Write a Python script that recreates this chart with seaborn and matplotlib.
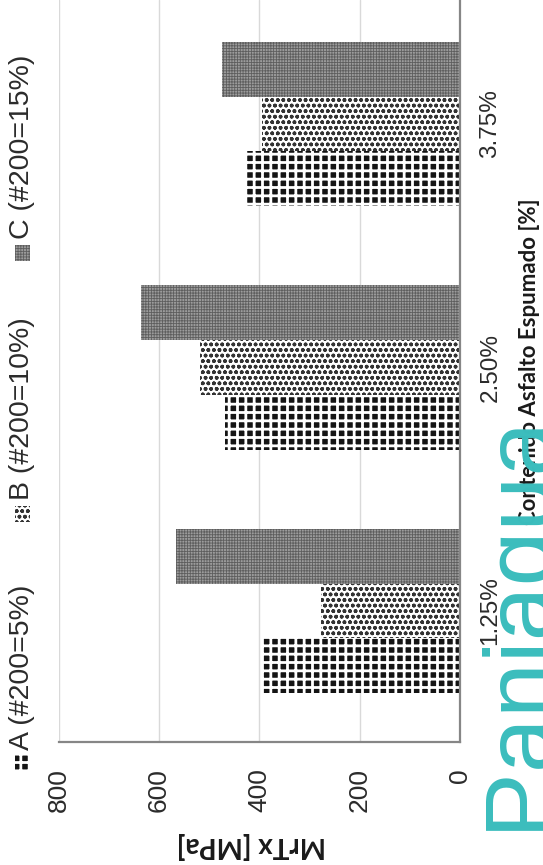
import matplotlib
matplotlib.use("Agg")
import matplotlib.pyplot as plt
import pandas as pd
import seaborn as sns
from matplotlib.patches import Rectangle

# Foamed-asphalt content on the category axis, one series per fines content
contenido = ["1.25%", "2.50%", "3.75%"]
series = ["A (#200=5%)", "B (#200=10%)", "C (#200=15%)"]
mr_a = [393, 468, 429]
mr_b = [278, 518, 394]
mr_c = [566, 637, 474]
value_ticks = [0, 200, 400, 600, 800]

W, H = 543, 865
sns.set_theme(style="white")
plt.rcParams["font.family"] = ["Liberation Sans", "DejaVu Sans"]

df = pd.DataFrame({
    "Contenido": contenido * 3,
    "Mezcla": [s for s in series for _ in contenido],
    "MrTx": mr_a + mr_b + mr_c,
})

fig = plt.figure(figsize=(W / 100, H / 100), dpi=100)
fig.patch.set_facecolor("white")


def fx(px):
    return px / W


def fy(py):
    return 1 - py / H


ax = fig.add_axes([fx(58.8), fy(742), fx(460) - fx(58.8), fy(0) - fy(742)])
sns.barplot(data=df, x="MrTx", y="Contenido", hue="Mezcla", order=contenido,
            hue_order=series, orient="h", width=0.675, gap=0, legend=False,
            errorbar=None, saturation=1, ax=ax)

# pattern fills for each mix
styles = [
    dict(face="#141414", hcol="white", hatch="++", hlw=2.0),
    dict(face="white", hcol="#333333", hatch="ooo", hlw=1.1),
    dict(face="#9c9c9c", hcol="#5e5e5e", hatch="++++++", hlw=0.6),
]


def apply_style(p, st):
    p.set_facecolor(st["face"])
    p.set_edgecolor(st["hcol"])
    p.set_linewidth(0)
    p.set_hatch(st["hatch"])
    if hasattr(p, "set_hatch_linewidth"):
        p.set_hatch_linewidth(st["hlw"])


for cont, st in zip(ax.containers, styles):
    for bar in cont:
        apply_style(bar, st)

ax.set_xlim(800, 0)
ax.set_ylim(-0.538, 2.509)
ax.set_xlabel("")
ax.set_ylabel("")

ax.set_xticks(value_ticks)
ax.set_xticklabels([str(v) for v in value_ticks], rotation=90)
ax.tick_params(axis="x", length=0, pad=19, labelsize=19, labelcolor="#2b2b2b")

ax.yaxis.tick_right()
ax.set_yticks(range(len(contenido)))
ax.set_yticklabels(contenido, rotation=90, va="center")
ax.tick_params(axis="y", length=0, pad=14, labelsize=17.5, labelcolor="#2b2b2b")

ax.grid(axis="x", color="#d9d9d9", lw=1)
ax.grid(axis="y", visible=False)
ax.set_axisbelow(True)
for side in ["top", "left"]:
    ax.spines[side].set_visible(False)
for side in ["bottom", "right"]:
    ax.spines[side].set_color("#868686")
    ax.spines[side].set_linewidth(1.6)

# legend column along the left edge
legend_marker_y = [762, 514, 253]
legend_text_y = [750, 500, 239]
for name, st, my, ty in zip(series, styles, legend_marker_y, legend_text_y):
    r = Rectangle((fx(14.5), fy(my + 7.5)), fx(15), fy(0) - fy(15),
                  transform=fig.transFigure)
    apply_style(r, st)
    fig.add_artist(r)
    fig.text(fx(22), fy(ty), name, rotation=90, ha="center", va="bottom",
             fontsize=20.5, color="#2b2b2b")

bold_family = ["Lato", "DejaVu Sans"]
fig.text(fx(530), fy(362), "Contenido Asfalto Espumado [%]", rotation=90,
         ha="center", va="center", fontsize=16, fontweight="bold",
         family=bold_family, color="#1a1a1a")
fig.text(fx(251), fy(846), "MrTx [MPa]", rotation=180, ha="center",
         va="center", fontsize=20, fontweight="bold", family=bold_family,
         color="#1a1a1a")

fig.text(fx(554), fy(938), "\u00a9 Paniagua", rotation=90, rotation_mode="anchor",
         ha="left", va="baseline", fontsize=71, color="#3bbdbd",
         family=["Liberation Sans", "DejaVu Sans"], zorder=10)

fig.savefig("out.png", dpi=100)
